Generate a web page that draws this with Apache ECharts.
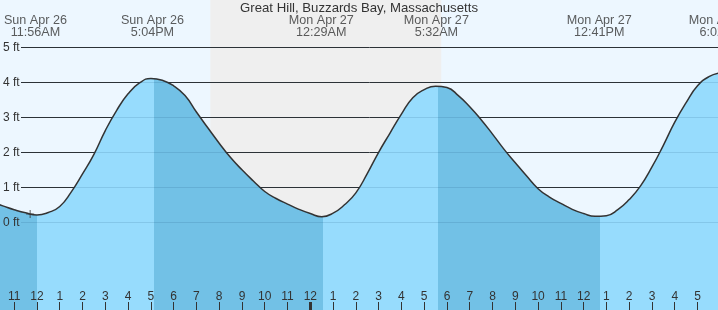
<!DOCTYPE html>
<html><head><meta charset="utf-8">
<script src="https://cdn.jsdelivr.net/npm/echarts@6/dist/echarts.min.js"></script>
<style>html,body{margin:0;padding:0;background:#edf7ff}#c{width:718px;height:310px}</style>
</head><body><div id="c"></div>
<script>
// ---- data ----
const titleText = 'Great Hill, Buzzards Bay, Massachusetts';
// hours since Sun Apr 26 00:00
const tideHours = [10.0, 10.5, 11.0, 11.5, 12.0, 12.5, 13.0, 13.5, 14.0, 14.5, 15.0, 15.5, 16.0, 16.5, 17.0, 17.5,
  18.0, 18.5, 19.0, 19.5, 20.0, 20.5, 21.0, 21.5, 22.0, 22.5, 23.0, 23.5, 24.0, 24.5, 25.0, 25.5,
  26.0, 26.5, 27.0, 27.5, 28.0, 28.5, 29.0, 29.5, 30.0, 30.5, 31.0, 31.5, 32.0, 32.5, 33.0, 33.5,
  34.0, 34.5, 35.0, 35.5, 36.0, 36.5, 37.0, 37.5, 38.0, 38.5, 39.0, 39.5, 40.0, 40.5, 41.0, 41.5, 42.0];
// water level, ft
const tideFeet = [0.58, 0.47, 0.36, 0.27, 0.21, 0.28, 0.45, 0.86, 1.38, 1.94, 2.62, 3.20, 3.67, 3.98, 4.11, 4.06,
  3.90, 3.62, 3.15, 2.70, 2.26, 1.85, 1.50, 1.18, 0.88, 0.68, 0.52, 0.37, 0.25, 0.16, 0.26, 0.50,
  0.84, 1.39, 2.00, 2.55, 3.09, 3.56, 3.79, 3.89, 3.85, 3.62, 3.30, 2.93, 2.52, 2.09, 1.70, 1.32,
  0.96, 0.72, 0.54, 0.37, 0.25, 0.17, 0.19, 0.36, 0.65, 1.04, 1.58, 2.20, 2.86, 3.42, 3.90, 4.16, 4.27];
const extremeHours = [11.933, 17.067, 24.483, 29.533, 36.683, 42.04];
const extremeLabels = ['Sun Apr 26\n11:56AM', 'Sun Apr 26\n5:04PM', 'Mon Apr 27\n12:29AM', 'Mon Apr 27\n5:32AM', 'Mon Apr 27\n12:41PM', 'Mon Apr 27\n6:02PM'];
const turnHours = [12.0, 17.14, 24.57, 29.61, 36.72];
const nightHours = [19.61, 29.75];
const hourTicks = [11,12,13,14,15,16,17,18,19,20,21,22,23,24,25,26,27,28,29,30,31,32,33,34,35,36,37,38,39,40,41];
const midnightTicks = [24];
const feetTicks = [0, 1, 2, 3, 4, 5];
const nowMarker = [11.70, 0.24];

// ---- view window / style ----
const xMin = 10.377, xMax = 41.899, yMin = -2.506, yMax = 6.351;
const FONT = '"Liberation Sans", Arial, Helvetica, sans-serif';
const TXT = '#333333';
const SKY = '#edf7ff', NIGHT = '#efefef', DARK = '#72c1e6', LIGHT = '#97dcfd';

const chart = echarts.init(document.getElementById('c'), null, {renderer: 'canvas'});
const hourLabel = v => { const h = ((Math.round(v) % 12) + 12) % 12; return String(h === 0 ? 12 : h); };

const option = {
  backgroundColor: SKY,
  animation: false,
  title: {text: titleText, left: 'center', top: 2, padding: 0,
    textStyle: {fontSize: 13.2, fontWeight: 'normal', color: TXT, fontFamily: FONT}},
  grid: [
    {left: 0, right: 0, top: 0, bottom: 0},
    {left: 21, right: 0, top: 0, bottom: 0}
  ],
  xAxis: [
    {type: 'value', gridIndex: 0, position: 'bottom', min: xMin, max: xMax, z: 10,
      axisLine: {show: false, onZero: false}, splitLine: {show: false},
      axisTick: {show: true, inside: true, length: 8, customValues: hourTicks, lineStyle: {color: TXT, width: 1}},
      axisLabel: {show: true, inside: true, margin: 7, customValues: hourTicks, formatter: hourLabel,
        color: TXT, fontSize: 12, fontFamily: FONT}},
    {type: 'value', gridIndex: 0, position: 'bottom', min: xMin, max: xMax, z: 10,
      axisLine: {show: false, onZero: false}, splitLine: {show: false}, axisLabel: {show: false},
      axisTick: {show: true, inside: true, length: 8, customValues: midnightTicks, lineStyle: {color: TXT, width: 3}}},
    {type: 'value', gridIndex: 1, position: 'bottom', min: xMin, max: xMax, show: false, axisLine: {onZero: false}}
  ],
  yAxis: [
    {type: 'value', gridIndex: 0, position: 'left', min: yMin, max: yMax, z: 10,
      axisLine: {show: false, onZero: false}, splitLine: {show: false},
      axisTick: {show: false, customValues: feetTicks},
      axisLabel: {show: true, inside: true, margin: 3, customValues: feetTicks, formatter: v => v + ' ft',
        color: TXT, fontSize: 12, fontFamily: FONT}},
    {type: 'value', gridIndex: 1, position: 'left', min: yMin, max: yMax, z: 1,
      axisLine: {show: false, onZero: false}, axisLabel: {show: false},
      axisTick: {show: false, customValues: feetTicks},
      splitLine: {show: true, lineStyle: {color: '#333333', width: 1}}},
    {type: 'value', gridIndex: 1, position: 'left', min: yMin, max: yMax, z: 5,
      axisLine: {show: false, onZero: false}, axisLabel: {show: false},
      axisTick: {show: false, customValues: feetTicks},
      splitLine: {show: true, lineStyle: {color: 'rgba(0,50,90,0.12)', width: 1}}}
  ],
  series: [
    {type: 'line', name: 'night', xAxisIndex: 0, yAxisIndex: 0, z: 0, silent: true,
      data: nightHours.map(h => [h, yMax]), symbol: 'none',
      lineStyle: {width: 0}, areaStyle: {color: NIGHT, opacity: 1, origin: 'start'}},
    {type: 'line', id: 'tide', xAxisIndex: 0, yAxisIndex: 0, z: 2,
      data: tideHours.map((h, i) => [h, tideFeet[i]]), smooth: true, symbol: 'none',
      lineStyle: {color: '#333333', width: 1.5},
      areaStyle: {color: LIGHT, opacity: 1, origin: 'start'}},
    {type: 'scatter', xAxisIndex: 0, yAxisIndex: 0, z: 10, clip: false, silent: true,
      data: extremeHours.map(h => [h, yMax]), symbolSize: 1, itemStyle: {color: 'rgba(0,0,0,0)'},
      label: {show: true, position: 'bottom', distance: 14, formatter: p => extremeLabels[p.dataIndex],
        color: TXT, fontSize: 12.6, lineHeight: 12, align: 'center', fontFamily: FONT}},
    {type: 'scatter', xAxisIndex: 0, yAxisIndex: 0, z: 10, silent: true,
      data: [nowMarker], symbol: 'path://M3.5,0H4.5V8H3.5Z M0,3.5H8V4.5H0Z', symbolSize: 8,
      itemStyle: {color: '#333333'}}
  ]
};
chart.setOption(option);

// fill colour: darker while the tide falls, lighter while it rises
const W = chart.getWidth();
let falling = tideFeet[1] < tideFeet[0];
const stops = [{offset: 0, color: falling ? DARK : LIGHT}];
turnHours.forEach(h => {
  const o = Math.min(1, Math.max(0, chart.convertToPixel({xAxisIndex: 0}, h) / W));
  stops.push({offset: o, color: falling ? DARK : LIGHT});
  falling = !falling;
  stops.push({offset: o, color: falling ? DARK : LIGHT});
});
stops.push({offset: 1, color: falling ? DARK : LIGHT});
chart.setOption({series: [{id: 'tide', areaStyle: {color: {type: 'linear', x: 0, y: 0, x2: W, y2: 0, global: true, colorStops: stops}}}]});
</script></body></html>
